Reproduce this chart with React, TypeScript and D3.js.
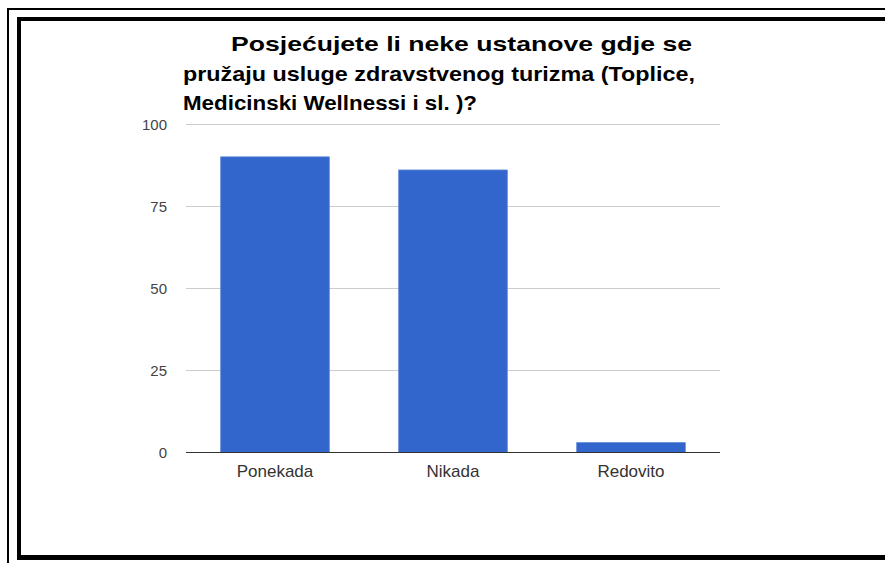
import { useEffect, useRef } from "react";
import * as d3 from "d3";

const categories = ["Ponekada", "Nikada", "Redovito"];
const values = [90, 86, 3];
const yTicks = [0, 25, 50, 75, 100];
const titleLines = [
  "Posjećujete li neke ustanove gdje se",
  "pružaju usluge zdravstvenog turizma (Toplice,",
  "Medicinski Wellnessi i sl. )?",
];
const titleWidths = [461, 512, 294];

const App = () => {
  const svgRef = useRef<SVGSVGElement | null>(null);
  const width = 885;
  const height = 563;

  useEffect(() => {
    if (!svgRef.current) return;
    const svg = d3.select(svgRef.current);
    svg.selectAll("*").remove();

    svg.append("rect").attr("width", width).attr("height", height).attr("fill", "#fff");

    // frame: thin outer line + thick inner line (right side is cut off)
    svg.append("rect").attr("x", 7).attr("y", 8).attr("width", width - 7).attr("height", 2).attr("fill", "#000");
    svg.append("rect").attr("x", 7).attr("y", 8).attr("width", 2).attr("height", height - 8).attr("fill", "#000");
    svg.append("rect").attr("x", 17).attr("y", 17).attr("width", width - 17).attr("height", 4).attr("fill", "#000");
    svg.append("rect").attr("x", 17).attr("y", 17).attr("width", 4).attr("height", 543).attr("fill", "#000");
    svg.append("rect").attr("x", 17).attr("y", 555).attr("width", width - 17).attr("height", 5).attr("fill", "#000");

    const x = d3.scaleBand<string>().domain(categories).range([186, 720]).paddingInner(0.39).paddingOuter(0.195);
    const y = d3.scaleLinear().domain([0, 100]).range([452.5, 124]);

    // gridlines
    svg.append("g")
      .selectAll("line")
      .data(yTicks.filter((t) => t !== 0))
      .join("line")
      .attr("x1", 186)
      .attr("x2", 720)
      .attr("y1", (d) => Math.round(y(d)) + 0.5)
      .attr("y2", (d) => Math.round(y(d)) + 0.5)
      .attr("stroke", "#cccccc")
      .attr("stroke-width", 1);

    // y tick labels
    svg.append("g")
      .selectAll("text")
      .data(yTicks)
      .join("text")
      .attr("x", 167)
      .attr("y", (d) => y(d) + 5.5)
      .attr("text-anchor", "end")
      .style("font-family", "'Liberation Sans', Arial, sans-serif")
      .style("font-size", "15px")
      .style("fill", "#444")
      .text((d) => d);

    // bars
    svg.append("g")
      .selectAll("rect")
      .data(categories)
      .join("rect")
      .attr("x", (d) => x(d) ?? 0)
      .attr("y", (_, i) => y(values[i]))
      .attr("width", x.bandwidth())
      .attr("height", (_, i) => y(0) - y(values[i]))
      .attr("fill", "#3366cc")
      .attr("stroke", "#5b84d8")
      .attr("stroke-width", 0.8);

    // baseline
    svg.append("line")
      .attr("x1", 186)
      .attr("x2", 720)
      .attr("y1", 452.5)
      .attr("y2", 452.5)
      .attr("stroke", "#333")
      .attr("stroke-width", 1);

    // x labels
    svg.append("g")
      .selectAll("text")
      .data(categories)
      .join("text")
      .attr("x", (d) => (x(d) ?? 0) + x.bandwidth() / 2)
      .attr("y", 477)
      .attr("text-anchor", "middle")
      .style("font-family", "'Liberation Sans', Arial, sans-serif")
      .style("font-size", "17px")
      .style("fill", "#333")
      .text((d) => d);

    // title
    svg.append("g")
      .selectAll("text")
      .data(titleLines)
      .join("text")
      .attr("x", (_, i) => (i === 0 ? 231 : 183))
      .attr("y", (_, i) => 51 + i * 29.5)
      .attr("textLength", (_, i) => titleWidths[i])
      .attr("lengthAdjust", "spacingAndGlyphs")
      .style("font-family", "'Liberation Sans', Arial, sans-serif")
      .style("font-size", "21px")
      .style("font-weight", "bold")
      .style("fill", "#000")
      .text((d) => d);
  }, []);

  return (
    <svg
      ref={svgRef}
      width={width}
      height={height}
      style={{ position: "absolute", left: 0, top: 0, display: "block" }}
    />
  );
};

export default App;
